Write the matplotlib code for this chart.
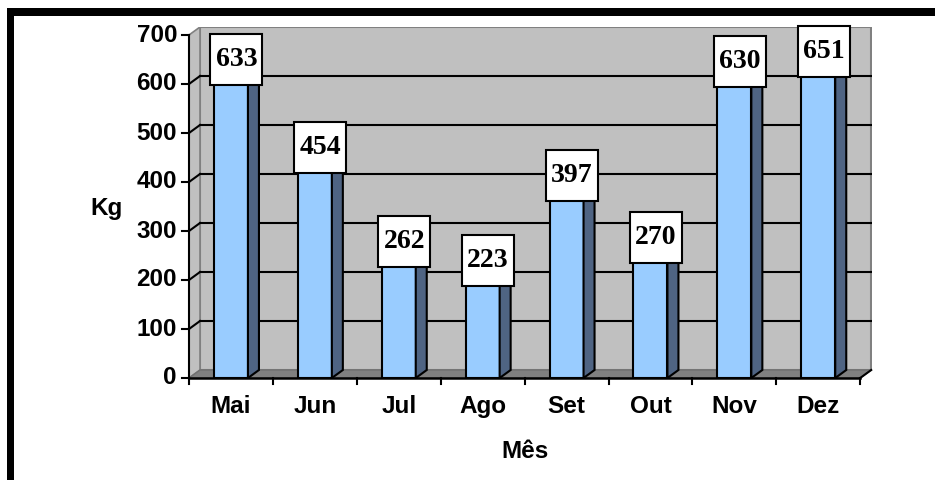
import matplotlib
matplotlib.use("Agg")
import matplotlib.pyplot as plt
from matplotlib.patches import Rectangle, Polygon

meses = ["Mai", "Jun", "Jul", "Ago", "Set", "Out", "Nov", "Dez"]
kg = [633, 454, 262, 223, 397, 270, 630, 651]
yticks = [0, 100, 200, 300, 400, 500, 600, 700]

W, H = 935, 480
fig = plt.figure(figsize=(W / 100, H / 100), dpi=100)
fig.patch.set_facecolor("white")

# black frame (top and left edges)
fig.add_artist(Rectangle((7 / W, 1 - 16 / H), 1 - 7 / W, 8 / H,
                         transform=fig.transFigure, color="black", lw=0))
fig.add_artist(Rectangle((7 / W, 0), 7 / W, 1 - 8 / H,
                         transform=fig.transFigure, color="black", lw=0))

# plot area in pixels
x0, y0 = 189, 378
px_x = 83.9          # px per category
px_y = 343 / 700     # px per kg
x1, y1 = 872, 27
ax = fig.add_axes([x0 / W, (H - y0) / H, (x1 - x0) / W, (y0 - y1) / H])
ax.set_xlim(0, (x1 - x0) / px_x)
ax.set_ylim(0, (y0 - y1) / px_y)
ax.axis("off")

dx = 11 / px_x       # depth offset
dy = 8 / px_y
n = len(meses)
top = yticks[-1]
gray_edge = "#808080"

# back wall, side wall, floor
ax.add_patch(Rectangle((dx, dy), n, top, facecolor="#c0c0c0",
                       edgecolor=gray_edge, lw=1.5, zorder=1))
ax.add_patch(Polygon([(0, 0), (0, top), (dx, top + dy), (dx, dy)],
                     facecolor="#c0c0c0", edgecolor=gray_edge, lw=1.2, zorder=1))
ax.add_patch(Polygon([(0, 0), (n, 0), (n + dx, dy), (dx, dy)],
                     facecolor="#808080", edgecolor="#707070", lw=1, zorder=1))

# gridlines on walls
for v in yticks[1:-1]:
    ax.plot([dx, n + dx], [v + dy, v + dy], color="black", lw=1.5, zorder=2)
    ax.plot([0, dx], [v, v + dy], color="black", lw=1.5, zorder=2)

# axes lines and ticks
ax.plot([0, 0], [0, top], color="black", lw=1.5, zorder=3, clip_on=False)
ax.plot([0, n], [0, 0], color="black", lw=1.8, zorder=6, clip_on=False)
ax.plot([n, n + dx], [0, dy], color="black", lw=1.5, zorder=6, clip_on=False)
for v in yticks:
    ax.plot([-7 / px_x, 0], [v, v], color="black", lw=1.5, clip_on=False)
    ax.text(-12 / px_x, v, str(v), ha="right", va="center", fontsize=17.5,
            fontweight="bold", family="Liberation Sans")
for i in range(n + 1):
    ax.plot([i, i], [0, -6 / px_y], color="black", lw=1.5, clip_on=False)

# bars
bw = 34 / px_x
for i, (m, v) in enumerate(zip(meses, kg)):
    xc = i + 0.5
    xl, xr = xc - bw / 2, xc + bw / 2
    ax.bar(xc, v, width=bw, color="#99ccff", edgecolor="black", lw=1.5, zorder=4)
    ax.add_patch(Polygon([(xr, 0), (xr + dx, dy), (xr + dx, v + dy), (xr, v)],
                         facecolor="#4f6483", edgecolor="black", lw=1.5, zorder=4))
    ax.add_patch(Polygon([(xl, v), (xr, v), (xr + dx, v + dy), (xl + dx, v + dy)],
                         facecolor="#99ccff", edgecolor="black", lw=1.5, zorder=4))
    ax.text(xc, -59, m, ha="center", va="center", fontsize=17.5,
            fontweight="bold", family="Liberation Sans")
    # value label box
    bx, by = xc + dx / 2, v + dy
    bwid, bhgt = 52 / px_x, 51 / px_y
    ax.add_patch(Rectangle((bx - bwid / 2, by - bhgt / 2), bwid, bhgt,
                           facecolor="white", edgecolor="black", lw=1.5,
                           zorder=7, clip_on=False))
    ax.text(bx, by, str(v), ha="center", va="center", fontsize=20,
            fontweight="bold", family="Liberation Serif", zorder=8)

ax.text((106 - x0) / px_x, (y0 - 208) / px_y, "Kg", ha="center", va="center",
        fontsize=17.5, fontweight="bold", family="Liberation Sans")
ax.text((525 - x0) / px_x, (y0 - 452) / px_y, "Mês", ha="center", va="center",
        fontsize=17.5, fontweight="bold", family="Liberation Sans")

fig.savefig("out.png", dpi=100)
